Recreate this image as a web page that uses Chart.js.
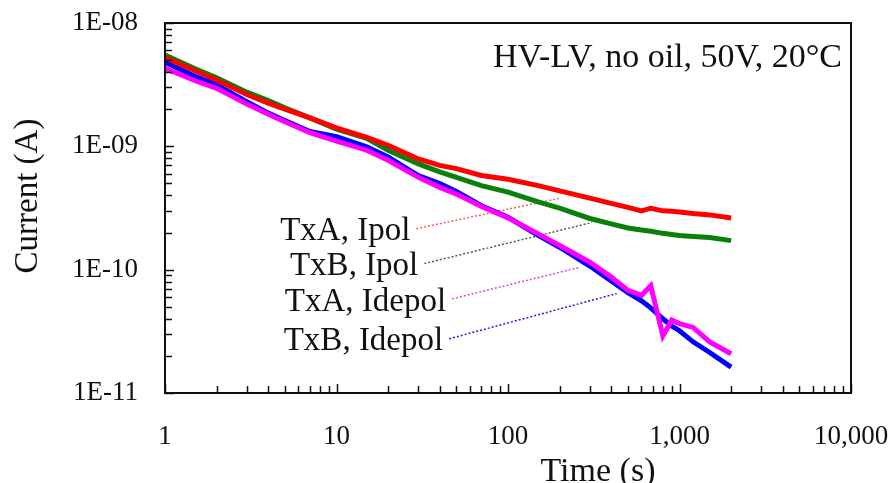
<!DOCTYPE html>
<html>
<head>
<meta charset="utf-8">
<script src="https://cdn.jsdelivr.net/npm/chart.js@4"></script>
<style>
  html, body { margin: 0; padding: 0; background: #fff; }
</style>
</head>
<body>
<canvas id="chart" width="896" height="483"></canvas>
<script>
/* Polarisation / depolarisation currents, HV-LV, no oil, 50V, 20°C */

// ── data ──
const time = [1, 1.5, 2, 3, 4, 5, 7, 10, 15, 20, 30, 40, 50, 70, 100, 150, 200, 300, 400, 500, 600, 680, 800, 900, 1000, 1200, 1500, 2000];

const txaIpol = [5.25e-9, 4.1e-9, 3.45e-9, 2.63e-9, 2.24e-9, 2.0e-9, 1.70e-9, 1.41e-9, 1.18e-9, 1.02e-9, 7.9e-10, 7.0e-10, 6.6e-10, 5.8e-10, 5.4e-10,
                 4.8e-10, 4.35e-10, 3.8e-10, 3.45e-10, 3.2e-10, 3.0e-10, 3.15e-10, 3.0e-10, 2.98e-10, 2.94e-10, 2.85e-10, 2.78e-10, 2.62e-10];
const txbIpol = [5.5e-9, 4.25e-9, 3.6e-9, 2.75e-9, 2.35e-9, 2.05e-9, 1.70e-9, 1.38e-9, 1.16e-9, 9.3e-10, 7.2e-10, 6.2e-10, 5.6e-10, 4.8e-10, 4.25e-10,
                 3.55e-10, 3.15e-10, 2.6e-10, 2.35e-10, 2.18e-10, 2.1e-10, 2.05e-10, 1.97e-10, 1.93e-10, 1.89e-10, 1.86e-10, 1.82e-10, 1.72e-10];
const txaIdepol = [4.3e-9, 3.4e-9, 2.95e-9, 2.2e-9, 1.82e-9, 1.58e-9, 1.29e-9, 1.1e-9, 9.3e-10, 7.7e-10, 5.6e-10, 4.65e-10, 4.1e-10, 3.25e-10, 2.63e-10,
                   1.95e-10, 1.57e-10, 1.15e-10, 8.7e-11, 6.8e-11, 6.2e-11, 7.4e-11, 2.9e-11, 3.9e-11, 3.65e-11, 3.4e-11, 2.6e-11, 2.08e-11];
const txbIdepol = [4.8e-9, 3.7e-9, 3.15e-9, 2.3e-9, 1.86e-9, 1.62e-9, 1.32e-9, 1.2e-9, 9.9e-10, 8.2e-10, 5.8e-10, 5.0e-10, 4.3e-10, 3.3e-10, 2.66e-10,
                   1.9e-10, 1.52e-10, 1.07e-10, 8.1e-11, 6.5e-11, 5.6e-11, 4.9e-11, 4.0e-11, 3.5e-11, 3.2e-11, 2.6e-11, 2.13e-11, 1.62e-11];

// dotted leader lines: [start, end] in (time, current)
const seriesNames = ['TxA, Ipol', 'TxB, Ipol', 'TxA, Idepol', 'TxB, Idepol'];
const leaderTime = [[29.2, 198], [32.5, 308], [47.2, 259], [45.4, 430]];
const leaderCurrent = [[2.15e-10, 3.78e-10], [1.12e-10, 2.41e-10], [5.8e-11, 1.04e-10], [2.75e-11, 6.4e-11]];

const xTickVals = [1, 10, 100, 1000, 10000];
const xTickLabels = ['1', '10', '100', '1,000', '10,000'];
const yTickVals = [1e-11, 1e-10, 1e-9, 1e-8];
const yTickLabels = ['1E-11', '1E-10', '1E-09', '1E-08'];

const COLORS = ['#ff0000', '#0a800a', '#ff00ff', '#0000ff'];
const LEADER_COLORS = ['#ff5a5a', '#3d6b3d', '#e040e0', '#2020e0'];
const SERIF = '"Liberation Serif", "Times New Roman", serif';

const pts = arr => time.map((t, i) => ({ x: t, y: arr[i] }));
const isPow10 = v => Math.abs(Math.log10(v) - Math.round(Math.log10(v))) < 1e-6;
const isWholeSig = v => {
  const m = v / Math.pow(10, Math.floor(Math.log10(v) + 1e-9));
  return Math.abs(m - Math.round(m)) < 1e-6;
};
const pickLabel = (vals, labels) => v => {
  const i = vals.findIndex(t => Math.abs(Math.log10(v) - Math.log10(t)) < 1e-6);
  return i >= 0 ? labels[i] : '';
};
// fixed box size, and no extra room for overhanging labels
const fixBox = (w, h) => s => {
  if (w != null) s.width = w;
  if (h != null) s.height = h;
  s.paddingTop = s.paddingBottom = s.paddingLeft = s.paddingRight = 0;
};

// frame, inward ticks and all free text
const decorations = {
  id: 'decorations',
  afterDatasetsDraw(chart) {
    const { ctx, chartArea: a, scales: { x, y } } = chart;
    ctx.save();
    ctx.strokeStyle = '#111';
    ctx.lineWidth = 1.5;
    ctx.beginPath();
    x.ticks.map(t => t.value).filter(isWholeSig).forEach(v => {
      const px = Math.round(x.getPixelForValue(v)) + 0.5;
      const len = isPow10(v) ? 9 : 7;
      ctx.moveTo(px, a.bottom); ctx.lineTo(px, a.bottom - len);
    });
    y.ticks.map(t => t.value).filter(isWholeSig).forEach(v => {
      const py = Math.round(y.getPixelForValue(v)) + 0.5;
      const len = isPow10(v) ? 9 : 7;
      ctx.moveTo(a.left, py); ctx.lineTo(a.left + len, py);
    });
    ctx.stroke();
    ctx.lineWidth = 2;
    ctx.strokeRect(a.left, a.top, a.right - a.left, a.bottom - a.top);

    ctx.fillStyle = '#111';
    ctx.font = '34px ' + SERIF;
    ctx.textAlign = 'right';
    ctx.textBaseline = 'alphabetic';
    ctx.fillText('HV-LV, no oil, 50V, 20°C', a.right - 9, a.top + 44);

    ctx.font = '33px ' + SERIF;
    ctx.textBaseline = 'middle';
    seriesNames.forEach((name, i) => {
      const px = x.getPixelForValue(leaderTime[i][0]);
      const py = y.getPixelForValue(leaderCurrent[i][0]);
      ctx.fillText(name, px - 6, py + 3);
    });

    ctx.font = '34px ' + SERIF;
    ctx.textAlign = 'center';
    ctx.textBaseline = 'alphabetic';
    ctx.fillText('Time (s)', 598, 481);

    ctx.font = '33px ' + SERIF;
    ctx.translate(28, 196);
    ctx.rotate(-Math.PI / 2);
    ctx.textBaseline = 'middle';
    ctx.fillText('Current (A)', 0, 0);
    ctx.restore();
  }
};

const curves = [txaIpol, txbIpol, txaIdepol, txbIdepol].map((arr, i) => ({
  label: seriesNames[i],
  data: pts(arr),
  borderColor: COLORS[i],
  borderWidth: 5,
  pointRadius: 0,
  tension: 0,
}));

const leaders = seriesNames.map((name, i) => ({
  label: name + ' leader',
  data: leaderTime[i].map((t, k) => ({ x: t, y: leaderCurrent[i][k] })),
  borderColor: LEADER_COLORS[i],
  borderWidth: 1.5,
  borderDash: [2, 2],
  pointRadius: 0,
}));

new Chart(document.getElementById('chart'), {
  type: 'line',
  data: { datasets: [...curves, ...leaders] },
  options: {
    responsive: false,
    animation: false,
    layout: { padding: { top: 23, right: 45, left: 0, bottom: 0 } },
    plugins: { legend: { display: false }, tooltip: { enabled: false } },
    scales: {
      x: {
        type: 'logarithmic', min: 1, max: 10000,
        afterFit: fixBox(null, 90),
        grid: { drawOnChartArea: false, drawTicks: false },
        border: { display: false },
        ticks: {
          autoSkip: false, maxRotation: 0, padding: 28, color: '#111',
          font: { family: SERIF, size: 27 },
          callback: pickLabel(xTickVals, xTickLabels),
        },
      },
      y: {
        type: 'logarithmic', min: 1e-11, max: 1e-8,
        afterFit: fixBox(165, null),
        grid: { drawOnChartArea: false, drawTicks: false },
        border: { display: false },
        ticks: {
          autoSkip: false, padding: 27, color: '#111',
          font: { family: SERIF, size: 27 },
          callback: pickLabel(yTickVals, yTickLabels),
        },
      },
    },
  },
  plugins: [decorations],
});
</script>
</body>
</html>
